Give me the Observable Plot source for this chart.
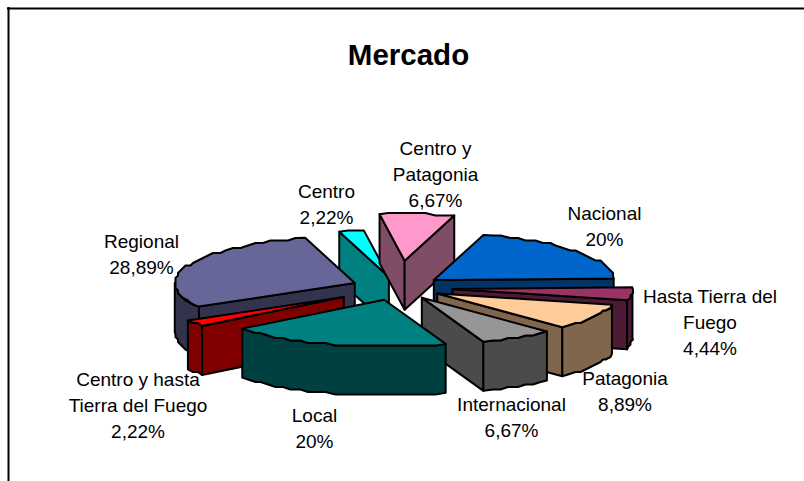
<!DOCTYPE html>
<html><head><meta charset="utf-8">
<script src="https://cdn.jsdelivr.net/npm/d3@7"></script>
<script src="https://cdn.jsdelivr.net/npm/@observablehq/plot@0.6"></script>
<style>html,body{margin:0;padding:0;background:#fff;overflow:hidden}svg{display:block}</style>
</head><body><div id="chart"></div>
<script>
// Data, clockwise from the first slice
const categories = ["Nacional","Hasta Tierra del\nFuego","Patagonia","Internacional","Local","Centro y hasta\nTierra del Fuego","Regional","Centro","Centro y\nPatagonia"];
const values = [20,4.44,8.89,6.67,20,2.22,28.89,2.22,6.67];
const percentLabels = ["20%","4,44%","8,89%","6,67%","20%","2,22%","28,89%","2,22%","6,67%"];
const explode = [0.256,0.307,0.255,0.255,0.27,0.36,0.256,0.23,0.57];
const topColors = ["#0066CC","#993366","#FFCC99","#969696","#008080","#FF0000","#666699","#00FFFF","#FF99CC"];
const sideColors = ["#003366","#4D1A33","#80664D","#4B4B4B","#004040","#800000","#33334D","#008080","#804D66"];
const paintOrder = [7,8,0,1,2,3,6,5,4];
const labelX = [604,709.5,624.5,511,314,137.5,141,326,435];
const labelY = [224,320,389,415,426,403,252,202,172];

// Layout of the tilted pie
const W = 804, H = 481;
const cx = 397, cy = 287, rx = 180, ry = 47, depth = 49, startAngle = 16, grid = 2.5, stepDeg = 3;
const rad = d => d * Math.PI / 180;

const total = d3.sum(values);
let cum = startAngle;
const slices = values.map((v, i) => {
  const a0 = cum, a1 = cum + v / total * 360; cum = a1;
  const mid = rad((a0 + a1) / 2);
  const ax = cx + explode[i] * rx * Math.sin(mid), ay = cy - explode[i] * ry * Math.cos(mid);
  const pt = (a, snap) => {
    let x = ax + rx * Math.sin(rad(a)), y = ay - ry * Math.cos(rad(a));
    if (snap) { x = Math.round(x / grid) * grid; y = Math.round(y / grid) * grid; }
    return {x, y};
  };
  const arc = (b0, b1) => {
    const n = Math.max(1, Math.round((b1 - b0) / stepDeg)), out = [];
    for (let k = 0; k <= n; k++) out.push(pt(b0 + (b1 - b0) * k / n, k > 0 && k < n));
    return out;
  };
  return {i, a0, a1, apex: {x: ax, y: ay}, pt, arc};
});

const down = p => ({x: p.x, y: p.y + depth});
const quad = pts => pts.concat(pts.slice().reverse().map(down));
const stroke = "#000", strokeWidth = 2;
const poly = (pts, fill) => Plot.line(pts, {x: "x", y: "y", fill, stroke, strokeWidth, curve: "linear-closed", strokeLinejoin: "round"});

const sliceMarks = [];
for (const idx of paintOrder) {
  const s = slices[idx], side = sideColors[idx];
  const p0 = s.pt(s.a0), p1 = s.pt(s.a1);
  if (p0.x < s.apex.x) sliceMarks.push(poly(quad([s.apex, p0]), side));
  if (s.apex.x < p1.x) sliceMarks.push(poly(quad([p1, s.apex]), side));
  const w0 = Math.max(s.a0, 90), w1 = Math.min(s.a1, 270);
  if (w1 > w0) sliceMarks.push(poly(quad(s.arc(w0, w1)), side));
  sliceMarks.push(poly([s.apex, ...s.arc(s.a0, s.a1)], topColors[idx]));
}

const labels = categories.map((c, i) => ({text: c + "\n" + percentLabels[i], x: labelX[i], y: labelY[i]}));

const plot = Plot.plot({
  width: W, height: H, margin: 0,
  x: {domain: [0, W], range: [0, W], axis: null},
  y: {domain: [0, H], range: [0, H], axis: null},
  style: {background: "#fff", fontFamily: "'Liberation Sans', Arial, sans-serif"},
  marks: [
    Plot.ruleX([8], {y1: 7, y2: H, stroke: "#000", strokeWidth: 2}),
    Plot.ruleY([8], {x1: 7, x2: W, stroke: "#000", strokeWidth: 2}),
    ...sliceMarks,
    Plot.text(labels, {x: "x", y: "y", text: "text", fontSize: 19, lineHeight: 1.37, fill: "#000", textAnchor: "middle"}),
    Plot.text(["Mercado"], {x: () => 408, y: () => 55, fontSize: 29.5, fontWeight: "bold", fill: "#000", textAnchor: "middle"})
  ]
});
document.getElementById("chart").append(plot);
</script></body></html>
